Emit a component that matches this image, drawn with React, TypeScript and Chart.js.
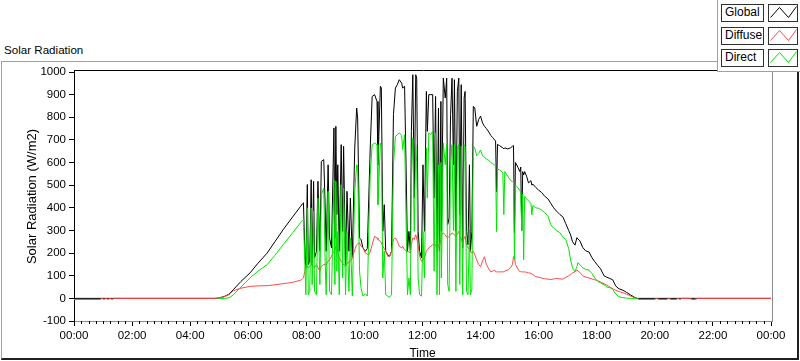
import React, { useEffect, useRef } from "react";
import { Chart, registerables } from "chart.js";

Chart.register(...registerables);

// Time of each sample, minutes after midnight
const timeMinutes: number[] = [
  0, 55, 58, 62, 66, 70, 74, 79, 83, 290, 298, 310, 320, 329, 345, 364, 380, 399, 415, 432, 450, 468, 472, 474,
  477, 479, 482, 484, 487, 490, 492, 495, 497, 501, 504, 508, 511, 516, 519, 521, 525, 528, 532, 537, 539, 541,
  543, 545, 548, 552, 555, 557, 561, 564, 568, 571, 575, 580, 584, 586, 590, 593, 597, 602, 606, 609, 612, 616,
  621, 626, 628, 633, 635, 638, 641, 644, 648, 652, 656, 660, 664, 668, 672, 677, 679, 683, 686, 689, 692, 695,
  697, 700, 703, 706, 708, 711, 714, 718, 721, 724, 728, 730, 733, 737, 741, 744, 747, 750, 753, 755, 758, 759,
  763, 767, 770, 772, 775, 778, 781, 784, 786, 789, 792, 795, 797, 800, 803, 806, 808, 811, 814, 817, 819, 822,
  825, 828,
  832, 836, 840, 844, 848, 852, 857, 861, 865, 869, 871, 873, 875, 879, 886, 888, 890, 896, 902, 906, 908, 910,
  912, 917, 921, 923, 925, 927, 929, 931, 935, 939, 944, 946, 948, 954, 960, 966, 972, 979, 985, 991, 997, 1004,
  1010, 1016, 1022, 1026, 1030, 1035, 1039, 1041, 1045, 1051, 1057, 1064, 1070, 1076, 1082, 1088, 1095, 1101,
  1107, 1113, 1119, 1126, 1134, 1142, 1150, 1157, 1163,
  1166, 1200, 1203, 1208, 1225, 1228, 1233, 1245, 1248, 1252, 1256, 1272, 1276, 1284, 1288, 1440,
];

// Global radiation, W/m2
const globalWm2: number[] = [
  0, 0, 0, 0, 0, 0, 0, 0, 0, 0, 1, 8, 18, 38, 75, 113, 155, 200, 250, 303, 355, 406, 418, 422,
  208, 135, 503, 149, 164, 524, 149, 517, 179, 208, 517, 208, 605, 613, 400, 208, 590, 267, 223, 753, 267, 760,
  370, 590, 208, 679, 296, 672, 149, 473, 208, 443, 179, 664, 841, 797, 267, 260, 223, 208, 220, 443, 664, 892,
  900, 870, 590, 937, 929, 296, 414, 208, 193, 186, 208, 812, 929, 944, 966, 951, 929, 937, 590, 208, 296, 208,
  738, 988, 443, 988, 973, 296, 208, 179, 590, 296, 914, 738, 900, 900, 900, 443, 892, 208, 841, 208, 870, 296,
  973, 885, 973, 326, 355, 812, 973, 590, 966, 296, 914, 973, 370, 944, 223, 885, 914, 296, 237, 590, 208, 296,
  848, 841,
  760, 790, 805, 775, 760, 750, 735, 720, 710, 700, 695, 470, 680, 675, 665, 660, 665, 660, 665, 672, 675, 290,
  600, 580, 560, 580, 300, 560, 545, 560, 540, 510, 520, 500, 505, 490, 478, 468, 452, 440, 420, 400, 385, 370,
  360, 330, 300, 280, 250, 235, 268, 262, 255, 225, 210, 205, 180, 162, 145, 130, 100, 93,
  88, 82, 55, 42, 36, 26, 15, 6, 0,
  0, 0, 0, 0, 0, 0, 0, 0, 0, 0, 0, 0, 0, 0, 0, 0,
];

// Diffuse radiation, W/m2
const diffuseWm2: number[] = [
  -5, -5, 0, -5, 0, -5, 0, -5, 0, 0, 1, 7, 16, 34, 45, 53, 55, 56, 60, 65, 70, 80, 88, 91,
  120, 149, 142, 135, 140, 149, 145, 140, 135, 149, 135, 120, 142, 149, 149, 149, 164, 171, 186, 208, 215, 230,
  220, 200, 179, 164, 155, 149, 142, 155, 160, 164, 179, 215, 237, 240, 245, 230, 223, 200, 195, 193, 205, 237,
  274, 267, 260, 252, 245, 230, 220, 208, 186, 186, 208, 260, 267, 252, 230, 223, 230, 215, 210, 208, 205, 201,
  237, 267, 260, 281, 267, 237, 186, 164, 170, 180, 208, 215, 223, 230, 237, 237, 237, 208, 237, 230, 260, 285,
  289, 280, 270, 267, 274, 280, 289, 285, 281, 274, 285, 296, 270, 267, 237, 267, 274, 237, 223, 220, 208, 200,
  208, 193,
  170, 150, 140, 165, 184, 150, 130, 117, 120, 125, 118, 117, 117, 117, 117, 118, 120, 125, 135, 150, 184, 184,
  150, 130, 118, 118, 117, 117, 117, 117, 115, 113, 110, 108, 105, 96, 93, 90, 87, 85, 83, 86, 88, 86,
  85, 92, 100, 105, 112, 118, 125, 122, 115, 100, 94, 90, 86, 82, 78, 72, 65, 58,
  50, 43, 36, 30, 25, 18, 10, 4, 0,
  -5, -5, 0, -5, -5, 0, -5, -5, 0, -5, 0, 0, -5, -5, 0, 0,
];

// Direct radiation, W/m2 (not recorded at night)
const directWm2: (number | null)[] = [
  null, null, null, null, null, null, null, null, null, null, 0, 0, 2, 15, 50, 91, 120, 149, 190, 237, 285, 334, 343, 348,
  149, 16, 400, 16, 31, 400, 60, 385, 31, 16, 443, 61, 458, 487, 149, 16, 473, 31, 16, 524, 61, 517,
  120, 296, 16, 502, 90, 487, 16, 296, 31, 267, 10, 473, 590, 580, 120, 46, 10, 20, 10, 296, 546, 679,
  686, 679, 414, 686, 672, 90, 208, 16, 10, 5, 16, 590, 715, 723, 731, 720, 657, 723, 355, 16, 90, 16,
  531, 708, 296, 679, 600, 90, 16, 10, 296, 90, 664, 443, 731, 723, 738, 120, 731, 16, 590, 16, 600, 90,
  686, 590, 679, 61, 31, 590, 679, 300, 679, 31, 664, 679, 61, 672, 16, 679, 672, 31, 16, 300, 16, 40,
  672, 664,
  630, 640, 655, 630, 625, 615, 610, 600, 595, 590, 585, 295, 570, 568, 555, 370, 560, 540, 520, 515, 520, 171,
  500, 490, 475, 470, 300, 460, 171, 450, 440, 430, 420, 369, 410, 400, 398, 390, 380, 365, 325, 310, 300, 290,
  270, 260, 220, 170, 135, 118, 140, 157, 150, 135, 128, 125, 110, 90, 75, 68, 60, 50,
  47, 40, 20, 7, 3, 1, 0, 0, 0,
  null, null, null, null, null, null, null, null, null, null, null, null, null, null, null, null,
];

const seriesNames = ["Global", "Diffuse", "Direct"];
const seriesColors = ["#000000", "#ff4848", "#00e400"];

const xTickHours = [0, 2, 4, 6, 8, 10, 12, 14, 16, 18, 20, 22, 24];
const xTickLabels = ["00:00", "02:00", "04:00", "06:00", "08:00", "10:00", "12:00", "14:00", "16:00", "18:00", "20:00", "22:00", "00:00"];
const yTickValues = [-100, 0, 100, 200, 300, 400, 500, 600, 700, 800, 900, 1000];

const FONT = "'Liberation Sans', Arial, sans-serif";

const framePlugin = {
  id: "frameAndMinorTicks",
  afterDraw(chart: any) {
    const { ctx, chartArea, scales } = chart;
    const xs = scales.x;
    ctx.save();
    ctx.lineWidth = 1;
    // minor ticks every 15 minutes
    ctx.strokeStyle = "#000";
    ctx.beginPath();
    for (let m = 0; m <= 1440; m += 15) {
      if (m % 120 === 0) continue;
      const px = Math.round(xs.getPixelForValue(m / 60)) + 0.5;
      ctx.moveTo(px, chartArea.bottom);
      ctx.lineTo(px, chartArea.bottom + 3);
    }
    ctx.stroke();
    // top border (black)
    ctx.beginPath();
    ctx.moveTo(chartArea.left, Math.round(chartArea.top) - 1.5);
    ctx.lineTo(chartArea.right + 2, Math.round(chartArea.top) - 1.5);
    ctx.stroke();
    // left border extension up to top line
    ctx.beginPath();
    ctx.moveTo(Math.round(chartArea.left) + 0.5, Math.round(chartArea.top) - 2);
    ctx.lineTo(Math.round(chartArea.left) + 0.5, chartArea.top + 1);
    ctx.stroke();
    // right border (gray)
    ctx.strokeStyle = "#8c8c8c";
    ctx.beginPath();
    ctx.moveTo(Math.round(chartArea.right) + 1.5, Math.round(chartArea.top) - 1);
    ctx.lineTo(Math.round(chartArea.right) + 1.5, chartArea.bottom + 1);
    ctx.stroke();
    ctx.restore();
  },
};

function ChartCanvas() {
  const ref = useRef<HTMLCanvasElement | null>(null);
  useEffect(() => {
    if (!ref.current) return;
    const seriesValues = [globalWm2, diffuseWm2, directWm2];
    const datasets = seriesValues.map((vals, k) => ({
      label: seriesNames[k],
      data: timeMinutes.map((t, i) => ({ x: t / 60, y: vals[i] })),
      borderColor: seriesColors[k],
      backgroundColor: seriesColors[k],
      borderWidth: 1,
      pointRadius: 0,
      tension: 0,
      spanGaps: false,
      borderJoinStyle: "round" as const,
      order: 2 - k,
    }));
    const chart = new Chart(ref.current, {
      type: "line",
      data: { datasets },
      options: {
        responsive: false,
        maintainAspectRatio: false,
        animation: false,
        devicePixelRatio: 1,
        events: [],
        layout: { padding: { top: 72, right: 29, left: 0, bottom: 0 } },
        plugins: { legend: { display: false }, tooltip: { enabled: false }, title: { display: false } },
        scales: {
          x: {
            type: "linear",
            min: 0,
            max: 24,
            afterBuildTicks: (scale: any) => {
              scale.ticks = xTickHours.map((v) => ({ value: v }));
            },
            afterFit: (scale: any) => {
              scale.height = 40;
            },
            ticks: {
              autoSkip: false,
              maxRotation: 0,
              padding: 3,
              color: "#000",
              font: { family: FONT, size: 11.5 },
              callback: (_v: any, i: number) => xTickLabels[i],
            },
            grid: { drawOnChartArea: false, drawTicks: true, tickLength: 5, tickColor: "#000", color: "#000" },
            border: { color: "#8c8c8c", width: 1 },
            title: {
              display: true,
              text: "Time",
              color: "#000",
              font: { family: FONT, size: 12 },
              padding: { top: 0, bottom: 0 },
            },
          },
          y: {
            type: "linear",
            min: -100,
            max: 1000,
            afterBuildTicks: (scale: any) => {
              scale.ticks = yTickValues.map((v) => ({ value: v }));
            },
            afterFit: (scale: any) => {
              scale.width = 74;
            },
            ticks: {
              padding: 3,
              color: "#000",
              font: { family: FONT, size: 11.5 },
              callback: (v: any) => String(v),
            },
            grid: { drawOnChartArea: false, drawTicks: true, tickLength: 5, tickColor: "#000", color: "#000" },
            border: { color: "#000", width: 1 },
            title: {
              display: true,
              text: "Solar Radiation (W/m2)",
              color: "#000",
              font: { family: FONT, size: 13 },
              padding: { top: 25, bottom: 0 },
            },
          },
        },
      },
      plugins: [framePlugin],
    });
    return () => chart.destroy();
  }, []);
  return <canvas ref={ref} width={800} height={361} style={{ position: "absolute", left: 0, top: 0, width: 800, height: 361 }} />;
}

function Legend() {
  return (
    <div
      style={{
        position: "absolute",
        left: 717,
        top: 0,
        width: 83,
        height: 72,
        background: "#fff",
        borderLeft: "1px solid #a0a0a0",
        borderBottom: "1px solid #a0a0a0",
        boxSizing: "border-box",
      }}
    >
      {seriesNames.map((name, i) => (
        <React.Fragment key={name}>
          <div
            style={{
              position: "absolute",
              left: 3,
              top: 4 + Math.round(i * 22.7),
              width: 43,
              height: 18,
              boxSizing: "border-box",
              border: "1px solid #303030",
              background: "#fff",
              font: `12px ${FONT}`,
              lineHeight: "15px",
              paddingLeft: 3,
              color: "#000",
              whiteSpace: "nowrap",
            }}
          >
            {name}
          </div>
          <div
            style={{
              position: "absolute",
              left: 50,
              top: 4 + Math.round(i * 22.7),
              width: 30,
              height: 18,
              boxSizing: "border-box",
              border: "1px solid #303030",
              background: "#fff",
            }}
          >
            <svg width={28} height={16} style={{ position: "absolute", left: 0, top: 0 }}>
              <polyline points="1.5,12.5 10.5,2.5 19.5,12.5 27.5,1.5" fill="none" stroke={seriesColors[i]} strokeWidth={1} />
            </svg>
          </div>
        </React.Fragment>
      ))}
    </div>
  );
}

export default function App() {
  return (
    <div style={{ position: "absolute", left: 0, top: 0, width: 800, height: 361, background: "#fff", overflow: "hidden" }}>
      <div
        style={{
          position: "absolute",
          left: 4,
          top: 43,
          font: `11.6px ${FONT}`,
          lineHeight: "14px",
          color: "#000",
          whiteSpace: "nowrap",
        }}
      >
        Solar Radiation
      </div>
      <div
        style={{
          position: "absolute",
          left: 1,
          top: 61,
          width: 798,
          height: 299,
          boxSizing: "border-box",
          borderTop: "1px solid #a0a0a0",
          borderLeft: "1px solid #a0a0a0",
          borderRight: "2px solid #202020",
          borderBottom: "2px solid #202020",
        }}
      />
      <ChartCanvas />
      <Legend />
    </div>
  );
}
